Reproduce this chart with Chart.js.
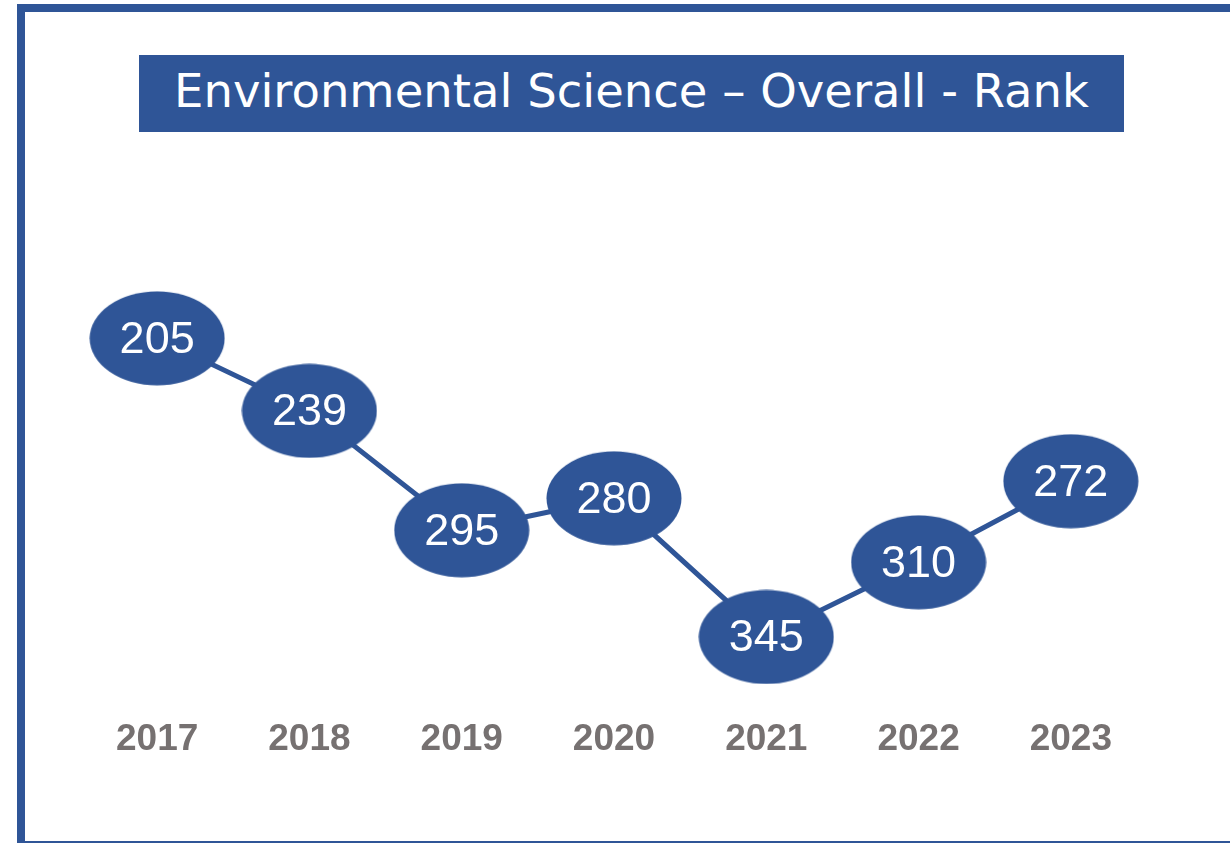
<!DOCTYPE html>
<html>
<head>
<meta charset="utf-8">
<script src="https://cdn.jsdelivr.net/npm/chart.js@4.4.1/dist/chart.umd.min.js"></script>
<style>
  html, body { margin: 0; padding: 0; background: #fff; overflow: hidden; }
  #wrap { position: relative; width: 1230px; height: 843px; }
  #frame {
    position: absolute; left: 17px; top: 4px; width: 1300px; height: 829px;
    border: 8px solid #2f5597; box-sizing: content-box;
  }
  #title {
    position: absolute; left: 139px; top: 55px; width: 985px; height: 77px;
    background: #2f5597; color: #fff; text-align: center;
    font-family: "DejaVu Sans", sans-serif; font-size: 46.5px; line-height: 72px;
    white-space: nowrap;
  }
  #chart { position: absolute; left: 0; top: 0; }
</style>
</head>
<body>
<div id="wrap">
  <div id="frame"></div>
  <div id="title">Environmental Science – Overall - Rank</div>
  <canvas id="chart" width="1230" height="843"></canvas>
</div>
<script>
// Overall rank by year (lower is better, so the axis runs upside down)
const years = ['2017', '2018', '2019', '2020', '2021', '2022', '2023'];
const ranks = [205, 239, 295, 280, 345, 310, 272];

const BLUE = '#2f5597';

// ellipse used as the marker
function ellipseMarker(w, h) {
  const c = document.createElement('canvas');
  c.width = w; c.height = h;
  const ctx = c.getContext('2d');
  ctx.fillStyle = BLUE;
  ctx.beginPath();
  ctx.ellipse(w / 2, h / 2, w / 2 - 0.5, h / 2 - 0.5, 0, 0, Math.PI * 2);
  ctx.fill();
  return c;
}

const valueLabels = {
  id: 'valueLabels',
  afterDatasetsDraw(chart) {
    const { ctx } = chart;
    const meta = chart.getDatasetMeta(0);
    ctx.save();
    ctx.fillStyle = '#fff';
    ctx.font = '45px "Liberation Sans", Arial, sans-serif';
    ctx.textAlign = 'center';
    ctx.textBaseline = 'middle';
    meta.data.forEach((pt, i) => {
      ctx.fillText(String(ranks[i]), pt.x, pt.y + 2);
    });
    ctx.restore();
  }
};

new Chart(document.getElementById('chart'), {
  type: 'line',
  data: {
    labels: years,
    datasets: [{
      data: ranks,
      borderColor: BLUE,
      borderWidth: 5,
      pointStyle: ellipseMarker(136, 95),
      pointBackgroundColor: BLUE,
      pointBorderColor: BLUE,
      tension: 0,
      clip: false,
    }],
  },
  options: {
    responsive: false,
    animation: false,
    events: [],
    layout: { padding: { left: 81, right: 83, top: 221, bottom: 75 } },
    plugins: { legend: { display: false }, tooltip: { enabled: false } },
    scales: {
      x: {
        offset: true,
        border: { display: false },
        grid: { display: false, drawTicks: false },
        ticks: {
          padding: 6,
          color: '#767171',
          font: { family: '"Liberation Sans", Arial, sans-serif', size: 37, weight: 'bold' },
        },
      },
      y: {
        display: false,
        reverse: true,
        min: 150,
        max: 380,
      },
    },
  },
  plugins: [valueLabels],
});
</script>
</body>
</html>
